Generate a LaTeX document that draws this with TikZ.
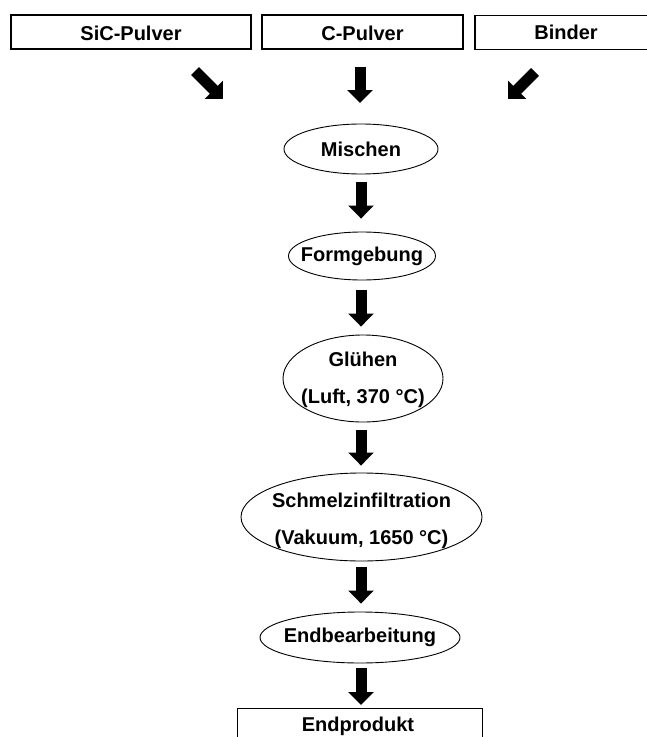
\documentclass[tikz,border=0pt]{standalone}
\usepackage{fontspec}
\setmainfont{Liberation Sans}
\usetikzlibrary{shapes.geometric,arrows.meta}
\begin{document}
\begin{tikzpicture}[x=1bp,y=-1bp,
  txt/.style={font=\bfseries\fontsize{20bp}{24bp}\selectfont, inner sep=0},
  txttwo/.style={font=\bfseries\fontsize{20bp}{37bp}\selectfont, inner sep=0, align=center},
  inbox/.style={draw, line width=1.4bp, rectangle, inner sep=0, minimum height=34bp},
  proc/.style={draw, ellipse, line width=0.9bp, inner sep=0},
  bigarrow/.style={line width=11bp, -{Triangle[width=25bp,length=13bp]}}]
\useasboundingbox (0,0) rectangle (647,737);
\clip (0,0) rectangle (647,737);

% raw materials
\node[inbox, minimum width=240bp] (sic) at (131,32) {};
\node[txt] (sict) at (131,33) {SiC-Pulver};
\node[inbox, minimum width=201bp] (cp) at (362.5,32) {};
\node[txt] (cpt) at (362.5,33) {C-Pulver};
\node[inbox, minimum width=182bp] (bind) at (566,32.5) {};
\node[txt] (bindt) at (bind) {Binder};

% process steps
\node[proc, minimum width=154bp, minimum height=50bp] (misch) at (361,149) {};
\node[txt] (mischt) at (misch) {Mischen};
\node[proc, minimum width=147bp, minimum height=48bp] (form) at (362,256) {};
\node[txt] (formt) at (form) {Formgebung};
\node[proc, minimum width=160bp, minimum height=87bp] (glueh) at (363,378.5) {};
\node[txttwo] (glueht) at (363,380) {Glühen\\(Luft, 370 °C)};
\node[proc, minimum width=241bp, minimum height=88bp] (schmelz) at (361.5,517) {};
\node[txttwo] (schmelzt) at (361.5,521) {Schmelzinfiltration\\(Vakuum, 1650 °C)};
\node[proc, minimum width=200bp, minimum height=51bp] (endb) at (360,637.5) {};
\node[txt] (endbt) at (endb) {Endbearbeitung};

% product
\node[inbox, anchor=north, minimum width=245bp, minimum height=40bp] (endp) at (360,708) {};
\node[txt] (endpt) at (358,726) {Endprodukt};

% arrows
\coordinate (sicA) at (195,71);
\coordinate (sicB) at (223,99);
\coordinate (bindA) at (535,72);
\coordinate (bindB) at (508,99);
\coordinate (cpA) at (360,67);
\coordinate (cpB) at (360,103);
\draw[bigarrow] (sicA) -- (sicB);
\draw[bigarrow] (bindA) -- (bindB);
\draw[bigarrow] (cpA) -- (cpB);
\draw[bigarrow] ([yshift=-8bp]misch.south) -- ([yshift=13bp]form.north -| misch.south);
\draw[bigarrow] ([yshift=-10bp]form.south -| misch.south) -- ([yshift=8bp]glueh.north -| misch.south);
\draw[bigarrow] ([yshift=-8bp]glueh.south -| misch.south) -- ([yshift=7bp]schmelz.north -| misch.south);
\draw[bigarrow] ([yshift=-6bp]schmelz.south -| misch.south) -- ([yshift=8bp]endb.north -| misch.south);
\draw[bigarrow] ([yshift=-5bp]endb.south -| misch.south) -- ([yshift=3bp]endp.north -| misch.south);
\end{tikzpicture}
\end{document}
